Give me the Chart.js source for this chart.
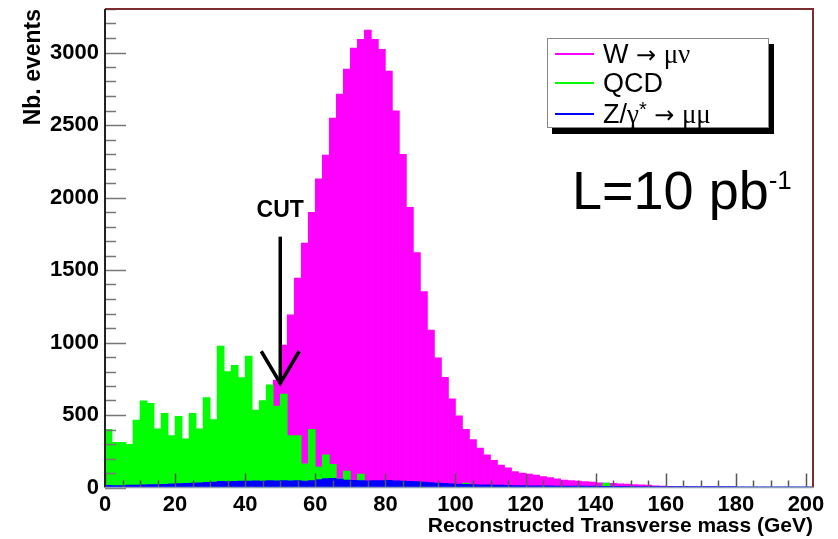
<!DOCTYPE html>
<html>
<head>
<meta charset="utf-8">
<script src="https://cdn.jsdelivr.net/npm/chart.js@4.4.1/dist/chart.umd.min.js"></script>
<style>
  body { margin: 0; background: #fff; }
  #wrap { position: relative; width: 838px; height: 539px; }
  #legend {
    position: absolute; left: 547px; top: 38px; width: 220px; height: 88px;
    border: 1px solid #888; background: #fff; box-shadow: 5px 6px 0 #000;
    font-family: "Liberation Sans", Arial, sans-serif; font-size: 27px; color: #000;
  }
  #legend .row { position: absolute; left: 0; height: 30px; line-height: 30px; white-space: nowrap; }
  #legend .swatch { position: absolute; left: 7px; top: 14px; width: 39px; height: 2px; }
  #legend .txt { position: absolute; left: 55px; top: 0; }
  .gr { font-family: "Liberation Serif", "DejaVu Serif", serif; }
  .ar { font-family: "DejaVu Sans", sans-serif; font-size: 24px; }
  .st { font-size: 20px; position: relative; top: -7px; }
  #lumi {
    position: absolute; left: 572px; top: 163px; font-family: "Liberation Sans", Arial, sans-serif;
    font-size: 54px; line-height: 1; color: #000; white-space: nowrap;
  }
  #lumi sup { font-size: 26px; vertical-align: baseline; position: relative; top: -20px; }
</style>
</head>
<body>
<div id="wrap">
  <canvas id="c" width="838" height="539"></canvas>
  <div id="legend">
    <div class="row" style="top:0px"><span class="swatch" style="background:#ff00ff"></span><span class="txt">W <span class="ar">→</span> <span class="gr">μν</span></span></div>
    <div class="row" style="top:29px"><span class="swatch" style="background:#00ff00"></span><span class="txt">QCD</span></div>
    <div class="row" style="top:60px"><span class="swatch" style="background:#0000ff"></span><span class="txt">Z/<span class="gr">γ</span><span class="st">*</span> <span class="ar">→</span> <span class="gr">μμ</span></span></div>
  </div>
  <div id="lumi">L=10 pb<sup>-1</sup></div>
</div>
<script>
// histogram binning (GeV)
const binWidth = 2;
const xMin = 0, xMax = 202;
const yMax = 3300;

// W -> mu nu, events per 2 GeV bin
const wMuNu = [
  2, 3, 3, 4, 5, 6, 7, 8, 10, 12,
  15, 18, 22, 28, 35, 45, 58, 75, 95, 125,
  165, 220, 300, 420, 740, 983, 1190, 1445, 1686, 1898,
  2128, 2293, 2548, 2714, 2886, 3031, 3091, 3155, 3091, 3022,
  2872, 2597, 2298, 1932, 1620, 1352, 1086, 895, 760, 612,
  494, 402, 330, 272, 226, 188, 155, 135, 110, 100,
  92, 85, 75, 68, 60, 52, 48, 45, 40, 37,
  32, 30, 28, 26, 24, 20, 18, 16, 12, 10,
  8, 7, 6, 5, 5, 4, 4, 3, 3, 3,
  2, 2, 2, 2, 1, 1, 1, 1, 1, 1, 1
];

// QCD
const qcd = [
  401, 312, 312, 298, 465, 597, 580, 404, 512, 358,
  490, 335, 512, 404, 621, 468, 975, 799, 842, 758,
  907, 534, 600, 708, 562, 644, 358, 358, 163, 401,
  140, 225, 160, 60, 114, 45, 93, 15, 10, 8,
  5, 0, 0, 0, 0, 0, 0, 0, 0, 0,
  0, 30, 0, 0, 0, 0, 0, 0, 0, 0,
  0, 0, 0, 0, 0, 0, 0, 0, 0, 0,
  0, 30, 0, 0, 0, 0, 0, 0, 0, 0,
  0, 0, 0, 0, 0, 0, 0, 0, 0, 0,
  0, 0, 0, 0, 0, 0, 0, 0, 0, 0, 0
];

// Z/gamma* -> mu mu
const zMuMu = [
  15, 14, 14, 16, 17, 18, 20, 20, 22, 25,
  27, 28, 30, 32, 35, 38, 42, 40, 43, 45,
  44, 46, 45, 47, 46, 48, 46, 47, 45, 48,
  55, 62, 64, 58, 52, 50, 48, 46, 47, 48,
  50, 46, 45, 42, 40, 38, 34, 30, 28, 26,
  24, 22, 20, 19, 18, 17, 16, 15, 14, 13,
  12, 12, 11, 11, 10, 10, 10, 9, 9, 9,
  8, 8, 8, 8, 8, 7, 7, 7, 7, 7,
  7, 6, 6, 6, 6, 6, 6, 6, 6, 6,
  5, 5, 5, 5, 5, 5, 5, 5, 5, 5, 5
];

const xTicks = [0, 20, 40, 60, 80, 100, 120, 140, 160, 180, 200];
const yTicks = [0, 500, 1000, 1500, 2000, 2500, 3000];

// cut line
const cutValue = 50;
const cutFrom = 1730, cutTo = 719;

function toPoints(vals) {
  return vals.map((v, i) => ({ x: xMin + binWidth * i + binWidth / 2, y: v }));
}

const tickFont = { family: '"Liberation Sans", Arial, sans-serif', size: 22, weight: 'bold' };

const rootAxes = {
  id: 'rootAxes',
  afterDatasetsDraw(chart) {
    const { ctx, chartArea: a, scales: { x, y } } = chart;
    ctx.save();
    // y ticks, inside the frame
    ctx.strokeStyle = '#777';
    ctx.lineWidth = 1.5;
    for (let v = 0; v <= yMax; v += 100) {
      const py = Math.round(y.getPixelForValue(v)) + 0.5;
      const len = yTicks.includes(v) ? 21 : 11;
      ctx.beginPath(); ctx.moveTo(a.left, py); ctx.lineTo(a.left + len, py); ctx.stroke();
    }
    // x ticks
    ctx.strokeStyle = '#555';
    for (let v = 0; v <= 200; v += 5) {
      const px = Math.round(x.getPixelForValue(v)) + 0.5;
      const len = xTicks.includes(v) ? 14 : 7;
      ctx.beginPath(); ctx.moveTo(px, a.bottom); ctx.lineTo(px, a.bottom - len); ctx.stroke();
    }
    // frame
    ctx.lineWidth = 2;
    ctx.strokeStyle = '#7a2e2e';
    ctx.beginPath();
    ctx.moveTo(a.left, a.top); ctx.lineTo(a.right, a.top); ctx.lineTo(a.right, a.bottom);
    ctx.stroke();
    ctx.strokeStyle = '#222';
    ctx.beginPath(); ctx.moveTo(a.left, a.top); ctx.lineTo(a.left, a.bottom); ctx.stroke();
    ctx.strokeStyle = '#8aa0b8';
    ctx.lineWidth = 1.5;
    ctx.beginPath(); ctx.moveTo(a.left, a.bottom); ctx.lineTo(a.right, a.bottom); ctx.stroke();

    // CUT arrow
    const cx = x.getPixelForValue(cutValue);
    const y0 = y.getPixelForValue(cutFrom);
    const y1 = y.getPixelForValue(cutTo);
    ctx.strokeStyle = '#000';
    ctx.lineWidth = 3.5;
    ctx.beginPath(); ctx.moveTo(cx, y0); ctx.lineTo(cx, y1); ctx.stroke();
    ctx.beginPath();
    ctx.moveTo(cx - 19, y1 - 32); ctx.lineTo(cx, y1); ctx.lineTo(cx + 19, y1 - 32);
    ctx.stroke();
    ctx.fillStyle = '#000';
    ctx.font = 'bold 23px "Liberation Sans", Arial, sans-serif';
    ctx.textAlign = 'center';
    ctx.textBaseline = 'alphabetic';
    ctx.fillText('CUT', cx, y0 - 20);
    ctx.restore();
  }
};

new Chart(document.getElementById('c'), {
  type: 'bar',
  data: {
    datasets: [
      { label: 'W → μν', data: toPoints(wMuNu), backgroundColor: '#ff00ff', order: 3 },
      { label: 'QCD', data: toPoints(qcd), backgroundColor: '#00ff00', order: 2 },
      { label: 'Z/γ* → μμ', data: toPoints(zMuMu), backgroundColor: '#0000ff', order: 1 }
    ]
  },
  options: {
    responsive: false,
    animation: false,
    layout: { padding: { top: 9, right: 25, left: 0, bottom: 0 } },
    datasets: { bar: { grouped: false, barPercentage: 1, categoryPercentage: 1, borderWidth: 0 } },
    plugins: { legend: { display: false }, tooltip: { enabled: false } },
    scales: {
      x: {
        type: 'linear', min: xMin, max: xMax, offset: false,
        grid: { display: false, drawTicks: false },
        border: { display: false },
        afterBuildTicks(s) { s.ticks = xTicks.map(v => ({ value: v })); },
        ticks: { padding: 4, color: '#000', font: tickFont, maxRotation: 0, autoSkip: false, callback: v => String(v) },
        title: {
          display: true, text: 'Reconstructed Transverse mass (GeV)', align: 'end', color: '#000',
          font: { family: '"Liberation Sans", Arial, sans-serif', size: 21, weight: 'bold' },
          padding: { top: 0, bottom: 0 }
        },
        afterFit(s) { s.height = 51.5; s.paddingLeft = 0; s.paddingRight = 0; }
      },
      y: {
        min: 0, max: yMax,
        grid: { display: false, drawTicks: false },
        border: { display: false },
        afterBuildTicks(s) { s.ticks = yTicks.map(v => ({ value: v })); },
        ticks: { padding: 6, color: '#000', font: tickFont, autoSkip: false, callback: v => String(v) },
        title: {
          display: true, text: 'Nb. events', align: 'end', color: '#000',
          font: { family: '"Liberation Sans", Arial, sans-serif', size: 23, weight: 'bold' },
          padding: { top: 20, bottom: 0 }
        },
        afterFit(s) { s.width = 105; s.paddingTop = 0; s.paddingBottom = 0; }
      }
    }
  },
  plugins: [rootAxes]
});
</script>
</body>
</html>
